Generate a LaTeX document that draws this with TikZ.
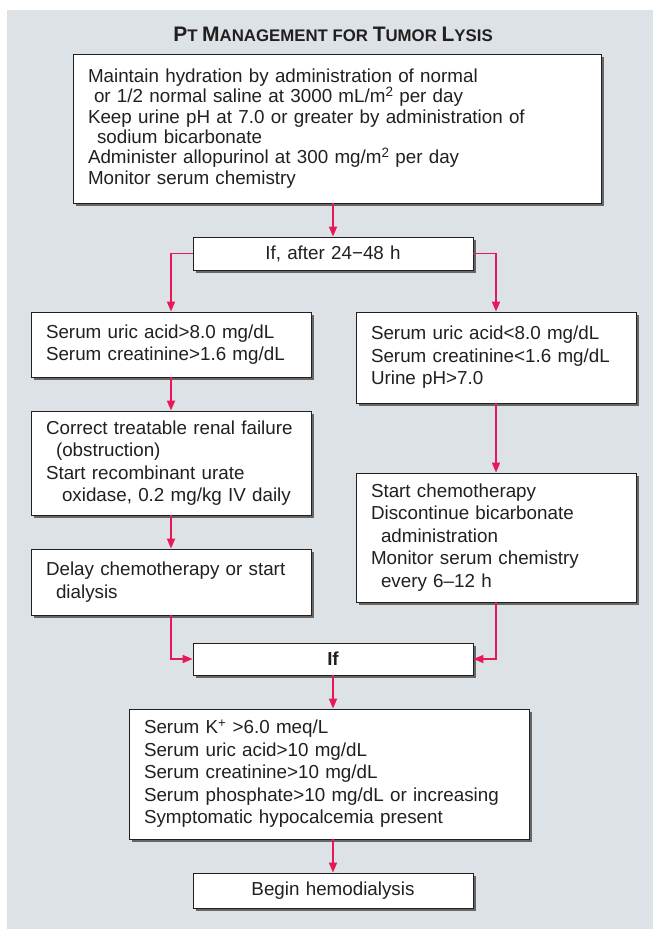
\documentclass[tikz,border=0pt]{standalone}
\usepackage{fontspec}
\setmainfont{Liberation Sans}
\usetikzlibrary{arrows.meta, positioning}
\definecolor{PanelGrey}{RGB}{220,226,230}
\definecolor{ArrowRed}{RGB}{232,24,88}
\definecolor{InkGrey}{RGB}{35,31,32}
\newcommand{\tcapL}[1]{{\fontsize{21}{22}\selectfont #1}}
\newcommand{\tcapS}[1]{{\fontsize{16.8}{18}\selectfont #1}}
\newcommand{\supnum}[1]{\raisebox{6.5pt}{\fontsize{13.5}{14}\selectfont #1}}
\tikzset{
	stepbox/.style={draw=InkGrey, line width=0.9pt, fill=white, text=InkGrey,
		inner xsep=15pt, inner ysep=0pt, align=left,
		font=\fontsize{18.8}{22.5}\selectfont,
		preaction={fill=black!60, transform canvas={xshift=2.6pt, yshift=-2.6pt}}},
	ifbox/.style={stepbox, align=center, text width=250pt, minimum height=33pt},
	connector/.style={ArrowRed, line width=1.7pt, -{Triangle[length=10pt,width=8pt]}}
}
\begin{document}
\begin{tikzpicture}[x=1pt, y=-1pt]
	\useasboundingbox (0,0) rectangle (653,929);
	% fondo y titulo
	\fill[PanelGrey] (7,10) rectangle (653,929);
	\node[font=\bfseries, text=InkGrey, anchor=base, inner sep=0pt] (title) at (333,41)
		{\tcapL{P}\tcapS{T }\tcapL{M}\tcapS{ANAGEMENT FOR }\tcapL{T}\tcapS{UMOR }\tcapL{L}\tcapS{YSIS}};
	% cajas
	\node[stepbox, text width=498pt, minimum height=149pt,
		font=\fontsize{18.8}{20.4}\selectfont] (hydrate) at (337,128.5)
		{\setlength{\lineskiplimit}{-8pt}Maintain hydration by administration of normal\\
		\hspace*{6pt}or 1/2 normal saline at 3000 mL/m\supnum{2} per day\\
		Keep urine pH at 7.0 or greater by administration of\\
		\hspace*{9pt}sodium bicarbonate\\
		Administer allopurinol at 300 mg/m\supnum{2} per day\\
		Monitor serum chemistry};
	\node[ifbox] (after) at (333,253.5) {If, after 24−48 h};
	\node[stepbox, text width=250pt, minimum height=65pt] (high) at (171,344.5)
		{Serum uric acid>8.0 mg/dL\\
		Serum creatinine>1.6 mg/dL};
	\node[stepbox, text width=250pt, minimum height=91pt] (low) at (496,357.5)
		{Serum uric acid<8.0 mg/dL\\
		Serum creatinine<1.6 mg/dL\\
		Urine pH>7.0};
	\node[stepbox, text width=250pt, minimum height=104pt] (renal) at (171,463)
		{Correct treatable renal failure\\
		\hspace*{10pt}(obstruction)\\
		Start recombinant urate\\
		\hspace*{16pt}oxidase, 0.2 mg/kg IV daily};
	\node[stepbox, text width=250pt, minimum height=66pt] (delay) at (171,582)
		{Delay chemotherapy or start\\
		\hspace*{10pt}dialysis};
	\node[stepbox, text width=250pt, minimum height=129pt] (chemo) at (496,537.5)
		{Start chemotherapy\\
		Discontinue bicarbonate\\
		\hspace*{10pt}administration\\
		Monitor serum chemistry\\
		\hspace*{10pt}every 6–12 h};
	\node[ifbox, font=\fontsize{18.8}{22.5}\selectfont\bfseries, minimum height=32pt] (if2) at (333,659) {If};
	\node[stepbox, text width=370pt, minimum height=130pt] (criteria) at (329,774)
		{\setlength{\lineskiplimit}{-8pt}Serum K\textsuperscript{+} >6.0 meq/L\\
		Serum uric acid>10 mg/dL\\
		Serum creatinine>10 mg/dL\\
		Serum phosphate>10 mg/dL or increasing\\
		Symptomatic hypocalcemia present};
	\node[ifbox, minimum height=35pt] (dialysis) at (333,890.5) {Begin hemodialysis};
	% conectores
	\draw[connector] (hydrate.south -| after.north) -- (after.north);
	\draw[connector] (after.west) -| (high.north);
	\draw[connector] (after.east) -| (low.north);
	\draw[connector] (high.south) -- (renal.north);
	\draw[connector] (renal.south) -- (delay.north);
	\draw[connector] (low.south) -- (chemo.north);
	\draw[connector] (delay.south) |- (if2.west);
	\draw[connector] (chemo.south) |- (if2.east);
	\draw[connector] (if2.south) -- (if2.south |- criteria.north);
	\draw[connector] (criteria.south -| dialysis.north) -- (dialysis.north);
\end{tikzpicture}
\end{document}
